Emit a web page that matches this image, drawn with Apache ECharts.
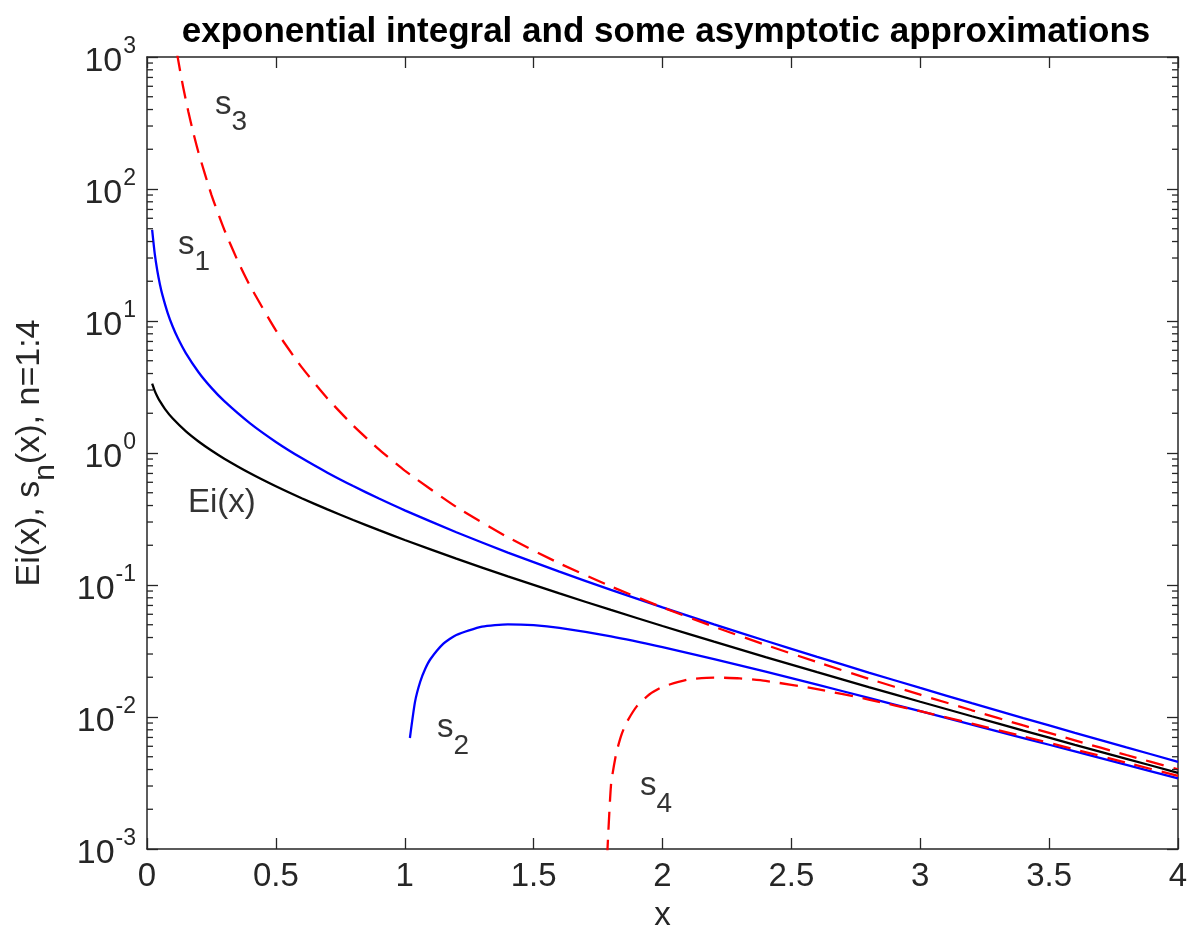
<!DOCTYPE html>
<html><head><meta charset="utf-8">
<script src="https://cdn.jsdelivr.net/npm/echarts@6/dist/echarts.min.js"></script>
<style>html,body{margin:0;padding:0;background:#fff;overflow:hidden}#c{width:1192px;height:937px}</style>
</head><body><div id="c"></div>
<script>
// ---- data ----
const titleText = 'exponential integral and some asymptotic approximations';
const xTicks = [0, 0.5, 1, 1.5, 2, 2.5, 3, 3.5, 4];
const yTickExps = [-3, -2, -1, 0, 1, 2, 3];
const yMinorTicks = [0.002,0.003,0.004,0.005,0.006,0.007,0.008,0.009,
  0.02,0.03,0.04,0.05,0.06,0.07,0.08,0.09,
  0.2,0.3,0.4,0.5,0.6,0.7,0.8,0.9,
  2,3,4,5,6,7,8,9, 20,30,40,50,60,70,80,90, 200,300,400,500,600,700,800,900];

const eiX = [0.02,0.03,0.04,0.05,0.07,0.1,0.15,0.2,0.25,0.3,0.4,0.5,0.6,0.7,0.8,0.9,1.0,1.2,1.4,1.6,1.8,2.0,2.2,2.4,2.6,2.8,3.0,3.2,3.4,3.6,3.8,4.0];
const eiY = [3.3547,2.9591,2.6813,2.4679,2.1509,1.8229,1.4645,1.2227,1.0443,0.9057,0.7024,0.5598,0.4544,0.3738,0.3106,0.2602,0.2194,0.1584,0.1162,0.08631,0.06471,0.04890,0.03719,0.02844,0.02185,0.01686,0.01305,0.01013,0.007891,0.006160,0.004820,0.003779];

const s1X = [0.02,0.03,0.04,0.05,0.06,0.08,0.1,0.12,0.15,0.2,0.25,0.3,0.4,0.5,0.6,0.7,0.8,0.9,1.0,1.2,1.4,1.6,1.8,2.0,2.2,2.4,2.6,2.8,3.0,3.2,3.4,3.6,3.8,4.0];
const s1Y = [49.01,32.35,24.02,19.02,15.70,11.54,9.048,7.391,5.738,4.094,3.115,2.469,1.676,1.213,0.9147,0.7094,0.5617,0.4517,0.3679,0.2510,0.1761,0.1262,0.09183,0.06767,0.05037,0.03780,0.02857,0.02172,0.01660,0.01274,0.009816,0.007590,0.005887,0.004579];

const s2X = [1.02,1.04,1.06,1.08,1.1,1.15,1.2,1.3,1.4,1.5,1.6,1.8,2.0,2.2,2.4,2.6,2.8,3.0,3.2,3.4,3.6,3.8,4.0];
const s2Y = [0.006932,0.013072,0.018501,0.023292,0.027510,0.035914,0.041833,0.048379,0.050326,0.049584,0.047320,0.040815,0.033834,0.027472,0.022049,0.017580,0.013961,0.011064,0.008757,0.006929,0.005482,0.004338,0.003434];

const s3X = [0.1,0.12,0.14,0.16,0.18,0.2,0.25,0.3,0.35,0.4,0.5,0.6,0.7,0.8,0.9,1.0,1.2,1.4,1.6,1.8,2.0,2.2,2.4,2.6,2.8,3.0,3.2,3.4,3.6,3.8,4.0];
const s3Y = [1728.2,972.4,595.5,388.1,265.3,188.3,90.34,49.11,29.13,18.43,8.491,4.472,2.5915,1.6148,1.0652,0.7358,0.39044,0.23006,0.14590,0.097502,0.067668,0.048284,0.035174,0.026031,0.019502,0.014752,0.011245,0.008627,0.006653,0.005153,0.004006];

const s4X = [1.78,1.8,1.82,1.84,1.86,1.9,1.95,2.0,2.1,2.2,2.3,2.4,2.6,2.8,3.0,3.2,3.4,3.6,3.8,4.0];
const s4Y = [0.000527,0.003023,0.005257,0.007255,0.009043,0.012039,0.014881,0.016917,0.019210,0.019903,0.019622,0.018768,0.016279,0.013566,0.011064,0.008913,0.007129,0.005677,0.004509,0.003577];

const annX = [0.264, 0.120, 0.159, 1.125, 1.913];
const annY = [435, 37.9, 0.421, 0.00826, 0.00298];
const annBase = ['s', 's', 'Ei(x)', 's', 's'];
const annSub = ['3', '1', '', '2', '4'];

// ---- chart ----
const FONT = '"Liberation Sans", Arial, Helvetica, sans-serif';
const AX = '#262626';
const pairs = (xs, ys) => xs.map((x, i) => [x, ys[i]]);
const chart = echarts.init(document.getElementById('c'), null, { width: 1192, height: 937 });

const axisLineStyle = { show: true, onZero: false, lineStyle: { color: AX, width: 1.5 } };
const tickStyle = { show: true, inside: true, length: 11, lineStyle: { color: AX, width: 1.3 } };

function lineSeries(name, xs, ys, color, dashed) {
  return {
    name, type: 'line', data: pairs(xs, ys), showSymbol: false, symbol: 'none',
    smooth: 0.2, clip: true,
    lineStyle: { color, width: 2.3, type: dashed ? [18, 10] : 'solid' },
    z: 3
  };
}

const option = {
  animation: false,
  backgroundColor: '#ffffff',
  title: {
    text: titleText, left: 661, top: 10, textAlign: 'center',
    textStyle: { fontFamily: FONT, fontSize: 35, fontWeight: 'bold', color: '#000' }
  },
  grid: { left: 147, top: 57, width: 1031, height: 798, containLabel: false },
  xAxis: [
    {
      type: 'value', min: xTicks[0], max: xTicks[xTicks.length - 1], interval: 0.5, position: 'bottom',
      name: 'x', nameLocation: 'middle', nameGap: 50,
      nameTextStyle: { fontFamily: FONT, fontSize: 33, color: AX },
      axisLine: axisLineStyle, axisTick: tickStyle, splitLine: { show: false },
      axisLabel: { margin: 11, fontFamily: FONT, fontSize: 33, color: AX, showMinLabel: true, showMaxLabel: true,
        formatter: v => { const t = xTicks.find(a => Math.abs(a - v) < 1e-9); return t === undefined ? '' : String(t); } }
    },
    {
      type: 'value', min: xTicks[0], max: xTicks[xTicks.length - 1], interval: 0.5, position: 'top',
      axisLine: axisLineStyle, axisTick: tickStyle, axisLabel: { show: false }, splitLine: { show: false }
    }
  ],
  yAxis: [
    {
      type: 'log', logBase: 10, min: Math.pow(10, yTickExps[0]), max: Math.pow(10, yTickExps[yTickExps.length - 1]),
      splitNumber: 6, position: 'left',
      name: 'Ei(x), s{sub|n}(x), n=1:4', nameLocation: 'middle', nameGap: 86, nameRotate: 90,
      nameTextStyle: { fontFamily: FONT, fontSize: 34, color: AX,
        rich: { sub: { fontFamily: FONT, fontSize: 30, color: AX, padding: [32, 0, 0, 0] } } },
      axisLine: axisLineStyle, axisTick: tickStyle, splitLine: { show: false }, minorTick: { show: false },
      axisLabel: {
        margin: 11, fontFamily: FONT, color: AX, showMinLabel: true, showMaxLabel: true,
        formatter: v => {
          const e = Math.round(Math.log10(v));
          return yTickExps.indexOf(e) >= 0 ? '{b|10}{e|' + e + '}' : '';
        },
        rich: {
          b: { fontFamily: FONT, fontSize: 34, color: AX, padding: [10, 0, 0, 0] },
          e: { fontFamily: FONT, fontSize: 23, color: AX, padding: [0, 0, 20, 1] }
        }
      }
    },
    {
      type: 'log', logBase: 10, min: Math.pow(10, yTickExps[0]), max: Math.pow(10, yTickExps[yTickExps.length - 1]),
      splitNumber: 6, position: 'right',
      axisLine: axisLineStyle, axisTick: tickStyle, axisLabel: { show: false }, splitLine: { show: false }
    }
  ],
  series: [
    lineSeries('Ei', eiX, eiY, '#000000', false),
    lineSeries('s1', s1X, s1Y, '#0000ff', false),
    lineSeries('s2', s2X, s2Y, '#0000ff', false),
    lineSeries('s3', s3X, s3Y, '#ff0000', true),
    lineSeries('s4', s4X, s4Y, '#ff0000', true),
    {
      name: 'minorTicks', type: 'custom', silent: true, clip: false, z: 5,
      data: yMinorTicks.map(v => [xTicks[0], v]),
      renderItem: (params, api) => {
        const cs = params.coordSys;
        const y = api.coord([xTicks[0], api.value(1)])[1];
        const st = { stroke: AX, lineWidth: 1.3 };
        return {
          type: 'group',
          children: [
            { type: 'line', shape: { x1: cs.x, y1: y, x2: cs.x + 6, y2: y }, style: st },
            { type: 'line', shape: { x1: cs.x + cs.width - 6, y1: y, x2: cs.x + cs.width, y2: y }, style: st }
          ]
        };
      }
    },
    {
      name: 'labels', type: 'scatter', symbolSize: 0, silent: true, z: 6,
      data: annX.map((x, i) => ({
        value: [x, annY[i]],
        label: { formatter: annSub[i] ? '{b|' + annBase[i] + '}{s|' + annSub[i] + '}' : '{b|' + annBase[i] + '}' }
      })),
      label: {
        show: true, position: 'right', distance: 0,
        rich: {
          b: { fontFamily: FONT, fontSize: 33, color: '#000' },
          s: { fontFamily: FONT, fontSize: 28, color: '#000', padding: [36, 0, 0, 0] }
        }
      }
    }
  ]
};
chart.setOption(option);
</script>
</body></html>
